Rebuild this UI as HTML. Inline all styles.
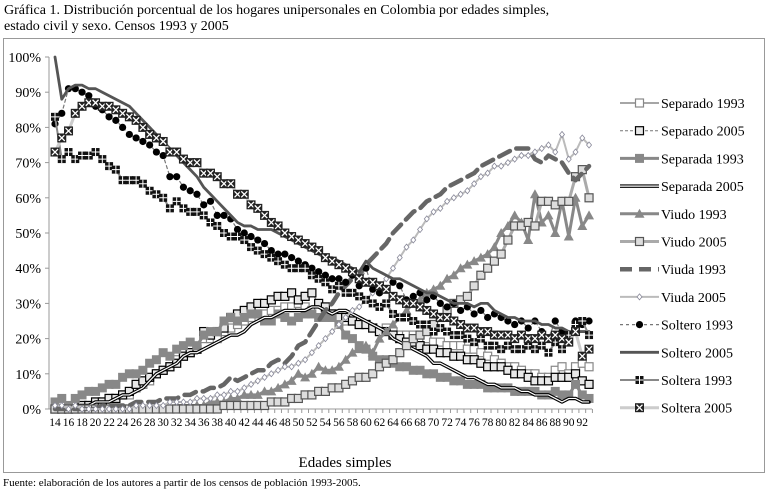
<!DOCTYPE html>
<html><head><meta charset="utf-8"><style>
body{margin:0;background:#fff;}
svg{display:block;font-family:"Liberation Serif",serif;}
</style></head><body>
<svg id="chart" width="770" height="493" viewBox="0 0 770 493">
<text x="4" y="14" font-size="14">Gráfica 1. Distribución porcentual de los hogares unipersonales en Colombia por edades simples,</text>
<text x="4" y="30" font-size="14">estado civil y sexo.  Censos 1993 y 2005</text>
<rect x="3.5" y="38.5" width="761" height="434" fill="none" stroke="#999"/>
<g id="axes"></g>
<g id="series"></g>
<g id="legend"></g>
<text x="345" y="467" font-size="15" text-anchor="middle">Edades simples</text>
<text x="3" y="486" font-size="11">Fuente: elaboración de los autores a partir de los censos de población 1993-2005.</text>
</svg>
<script>
const ages=[];for(let a=14;a<=93;a++)ages.push(a);
const yTicks=[0,10,20,30,40,50,60,70,80,90,100];
const seriesNames=["Separado 1993","Separado 2005","Separada 1993","Separada 2005","Viudo 1993","Viudo 2005","Viuda 1993","Viuda 2005","Soltero 1993","Soltero 2005","Soltera 1993","Soltera 2005"];
const separado1993=[0,0,0,1,1,1,2,2,3,3,4,4,6,7,8,10,11,12,14,15,16,17,20,20,20,22,23,24,25,26,27,27,28,28,29,29,30,29,28,28,27,27,26,25,25,24,24,23,22,23,22,21,21,21,20,20,19,19,18,18,18,17,17,16,15,14,13,12,12,11,10,10,9,9,11,12,10,12,13,12];
const separado2005=[0,0,0,0,1,1,2,2,3,3,4,5,7,8,9,10,11,12,13,15,16,17,22,21,22,23,26,27,28,29,30,30,31,32,32,33,31,32,33,30,29,27,26,26,25,24,24,23,22,22,21,20,19,19,18,17,17,16,16,15,15,14,14,13,12,12,12,11,10,10,9,8,8,8,9,9,9,10,8,7];
const separada1993=[2,3,1,3,4,5,5,6,7,7,9,10,10,11,13,14,16,15,17,18,19,18,21,22,22,25,26,25,26,27,27,25,25,27,26,25,26,27,27,26,26,26,24,21,20,18,17,15,14,14,13,12,12,11,11,10,10,9,9,8,8,7,7,7,6,6,6,6,5,5,5,5,4,4,5,4,4,7,4,3];
const separada2005=[0,0,0,1,1,1,2,2,2,3,4,4,5,6,8,10,11,12,13,15,16,16,17,18,19,20,21,21,22,24,25,26,26,27,28,28,28,28,29,29,28,27,28,28,27,26,25,24,23,22,20,19,18,17,16,15,13,13,12,11,10,9,9,8,7,7,6,6,6,5,5,4,4,4,3,2,3,3,2,2];
const viudo1993=[0,0,0,0,0,0,0,0,0,0,0,0,0,0,0,0,0,0,1,1,1,1,1,2,2,2,3,3,4,4,4,5,5,6,7,8,10,9,10,12,11,11,12,14,16,17,18,16,20,22,24,26,28,30,31,33,34,35,37,38,40,41,42,43,44,46,50,52,55,53,48,61,53,55,50,59,49,60,52,55];
const viudo2005=[0,0,0,0,0,0,0,0,0,0,0,0,0,0,0,0,0,0,0,0,0,0,0,0,0,1,1,1,1,1,1,1,2,2,2,3,3,4,4,5,5,6,6,7,8,9,9,10,12,13,14,16,18,20,21,22,24,26,28,30,31,32,35,38,40,42,44,48,52,52,53,52,59,59,58,59,59,66,68,60];
const viuda1993=[0,0,0,0,0,0,0,1,1,1,1,1,2,2,2,2,3,3,3,4,4,5,5,6,6,7,9,8,9,10,11,11,13,14,13,15,18,19,22,25,28,30,33,35,37,38,41,43,45,47,50,52,54,56,57,59,60,61,63,64,65,66,67,69,70,71,72,73,74,74,74,71,70,72,71,70,67,65,67,69];
const viuda2005=[1,1,0,1,0,0,0,0,0,0,0,0,1,1,1,1,1,2,2,2,2,3,3,3,4,4,5,5,6,7,8,9,10,11,12,12,13,14,16,18,20,22,24,26,28,29,31,33,35,37,40,43,46,48,51,54,56,57,59,60,61,62,64,66,67,69,69,70,71,72,72,73,74,75,73,78,71,73,77,75];
const soltero1993=[81,84,91,91,90,89,86,85,83,82,80,78,77,76,75,73,72,66,66,63,62,61,58,59,55,55,54,51,50,49,48,47,45,44,44,43,42,41,40,39,38,37,37,36,38,35,40,34,33,34,36,35,31,32,33,31,32,30,29,30,28,29,27,28,26,27,26,25,24,25,23,25,22,20,25,22,20,25,24,25];
const soltero2005=[100,88,91,92,92,91,91,90,89,88,87,86,84,82,80,78,76,74,72,70,68,66,63,61,59,57,55,53,52,52,51,51,51,50,49,48,47,46,45,44,43,43,42,41,40,39,42,40,39,38,37,37,36,35,34,33,33,32,31,30,30,30,29,30,30,28,27,26,26,25,25,25,24,24,23,23,22,22,22,22];
const soltera1993=[83,71,73,71,72,72,73,71,69,68,65,65,65,64,62,61,60,57,59,57,56,56,55,53,52,50,49,49,48,46,45,44,43,42,41,40,40,40,38,37,36,34,35,33,33,32,31,30,29,30,27,26,26,25,24,24,22,23,22,21,21,20,19,20,18,18,17,18,17,17,18,17,18,16,19,17,21,24,25,21];
const soltera2005=[73,77,79,84,86,87,87,86,86,85,84,83,82,80,78,77,76,73,73,71,70,70,67,67,66,64,64,61,61,58,57,55,53,52,50,49,48,47,46,45,43,42,41,40,39,37,36,36,35,34,32,31,30,30,29,28,27,26,26,25,24,23,23,22,22,21,21,21,20,21,20,20,21,20,21,20,19,22,15,17];

const NS="http://www.w3.org/2000/svg";
const X0=55,DX=6.76,Y0=409,YS=3.52;
function xs(a){return X0+(a-14)*DX;}
function ys(v){return Y0-v*YS;}
function mk(tag,attrs,parent){const e=document.createElementNS(NS,tag);for(const k in attrs)e.setAttribute(k,attrs[k]);parent.appendChild(e);return e;}
const axes=document.getElementById('axes'),sg=document.getElementById('series'),lg=document.getElementById('legend');

const yax=mk('line',{x1:49,y1:ys(100),x2:49,y2:Y0,stroke:'#999'},axes);


const xax=mk('line',{x1:49,y1:Y0,x2:xs(93)+3,y2:Y0,stroke:'#999'},axes);


yTicks.forEach(t=>{
  mk('line',{x1:45,y1:ys(t),x2:49,y2:ys(t),stroke:'#999'},axes);
  const tx=mk('text',{x:41,y:ys(t)+5,'font-size':14,'text-anchor':'end'},axes);
  tx.textContent=t+'%';
  
  
});
ages.forEach(a=>{
  mk('line',{x1:xs(a)+DX/2,y1:Y0,x2:xs(a)+DX/2,y2:Y0+4,stroke:'#999'},axes);
  if(a%2===0&&a<=92){
    const tx=mk('text',{x:xs(a),y:Y0+17,'font-size':11.5,'text-anchor':'middle'},axes);
    tx.textContent=a;
    
    
  }
});

function pts(arr){return arr.map((v,i)=>xs(ages[i])+','+ys(v)).join(' ');}
function marker(type,x,y,g){
  if(type==='dot')mk('circle',{cx:x,cy:y,r:3.6,fill:'#000'},g);
  else if(type==='sqX'){mk('rect',{x:x-4.5,y:y-4.5,width:9,height:9,fill:'#222'},g);mk('path',{d:`M${x-3},${y-3}L${x+3},${y+3}M${x+3},${y-3}L${x-3},${y+3}`,stroke:'#fff','stroke-width':1.3},g);}
  else if(type==='sqPlus'){mk('rect',{x:x-4,y:y-4,width:8,height:8,fill:'#111'},g);mk('path',{d:`M${x},${y-4}V${y+4}M${x-4},${y}H${x+4}`,stroke:'#fff','stroke-width':1},g);}
  else if(type==='boxBlack'){mk('rect',{x:x-4,y:y-4,width:8,height:8,fill:'#e8e8e8',stroke:'#000','stroke-width':1.2},g);}
  else if(type==='boxGray'){mk('rect',{x:x-4,y:y-4,width:8,height:8,fill:'#fff',stroke:'#888','stroke-width':1.2},g);}
  else if(type==='graySq'){mk('rect',{x:x-4.5,y:y-4.5,width:9,height:9,fill:'#888'},g);}
  else if(type==='tri'){mk('path',{d:`M${x},${y-5}L${x+5},${y+4}L${x-5},${y+4}Z`,fill:'#888'},g);}
  else if(type==='boxLight'){mk('rect',{x:x-4,y:y-4,width:8,height:8,fill:'#ddd',stroke:'#555','stroke-width':1.2},g);}
  else if(type==='diam'){mk('path',{d:`M${x},${y-3}L${x+2.5},${y}L${x},${y+3}L${x-2.5},${y}Z`,fill:'#fff',stroke:'#889','stroke-width':0.8},g);}
}
const styles=[
 {data:separado1993,stroke:'#888',w:1.5,dash:null,m:'boxGray',name:'separado-1993'},
 {data:separado2005,stroke:'#777',w:1,dash:'3,2',m:'boxBlack',name:'separado-2005'},
 {data:separada1993,stroke:'#888',w:3,dash:null,m:'graySq',name:'separada-1993'},
 {data:separada2005,stroke:'#000',w:3.5,dash:null,m:null,dbl:true,name:'separada-2005'},
 {data:viudo1993,stroke:'#888',w:3,dash:null,m:'tri',name:'viudo-1993'},
 {data:viudo2005,stroke:'#aaa',w:3,dash:null,m:'boxLight',name:'viudo-2005'},
 {data:viuda1993,stroke:'#666',w:4.5,dash:'12,7',m:null,name:'viuda-1993'},
 {data:viuda2005,stroke:'#bbb',w:2,dash:null,m:'diam',name:'viuda-2005'},
 {data:soltero1993,stroke:'#777',w:1.2,dash:'3,3',m:'dot',name:'soltero-1993'},
 {data:soltero2005,stroke:'#555',w:2.8,dash:null,m:null,name:'soltero-2005'},
 {data:soltera1993,stroke:'#888',w:2,dash:null,m:'sqPlus',name:'soltera-1993'},
 {data:soltera2005,stroke:'#ccc',w:3,dash:null,m:'sqX',name:'soltera-2005'}
];
styles.forEach((s,si)=>{
  const g=mk('g',{},sg);
  
  
  const a={points:pts(s.data),fill:'none',stroke:s.stroke,'stroke-width':s.w,'stroke-linejoin':'round','stroke-linecap':'round'};
  if(s.dash)a['stroke-dasharray']=s.dash;
  mk('polyline',a,g);
  if(s.dbl)mk('polyline',{points:pts(s.data),fill:'none',stroke:'#fff','stroke-width':1.2},g);
  if(s.m)s.data.forEach((v,i)=>marker(s.m,xs(ages[i]),ys(v),g));
  const ly=103+si*27.7;
  const le=mk('g',{},lg);
  
  
  const la={x1:620,y1:ly,x2:659,y2:ly,stroke:s.stroke,'stroke-width':s.w};
  if(s.dash)la['stroke-dasharray']=s.dash;
  mk('line',la,le);
  if(s.dbl)mk('line',{x1:620,y1:ly,x2:659,y2:ly,stroke:'#fff','stroke-width':1.2},le);
  if(s.m)marker(s.m,639.5,ly,le);
  const t=mk('text',{x:661,y:ly+5,'font-size':14},le);
  t.textContent=seriesNames[si];
});
</script>
</body></html>
